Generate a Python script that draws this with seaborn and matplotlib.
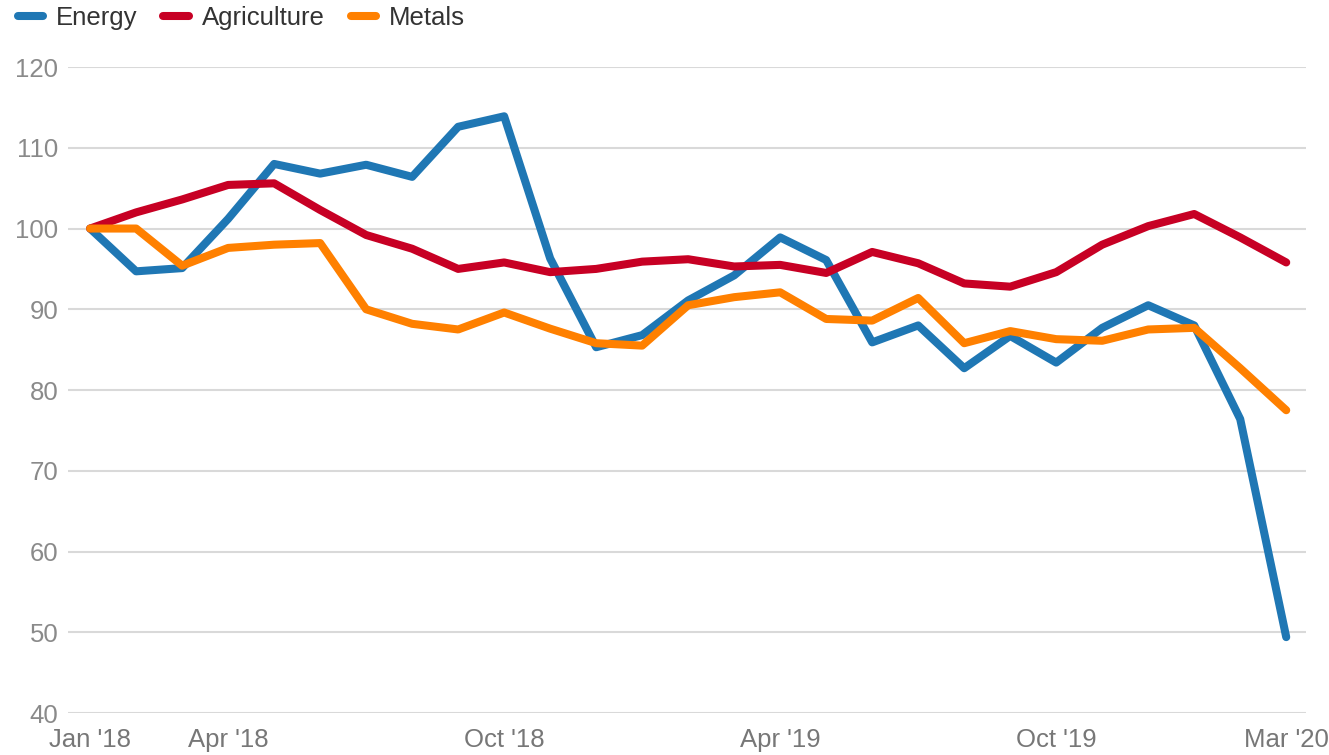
import matplotlib
matplotlib.use("Agg")
import matplotlib.pyplot as plt
import numpy as np
import pandas as pd
import seaborn as sns

# ---------------------------------------------------------------------------
# Data: monthly commodity price indices, Jan 2018 = 100
# ---------------------------------------------------------------------------
months = ["Jan '18", "Feb '18", "Mar '18", "Apr '18", "May '18", "Jun '18",
          "Jul '18", "Aug '18", "Sep '18", "Oct '18", "Nov '18", "Dec '18",
          "Jan '19", "Feb '19", "Mar '19", "Apr '19", "May '19", "Jun '19",
          "Jul '19", "Aug '19", "Sep '19", "Oct '19", "Nov '19", "Dec '19",
          "Jan '20", "Feb '20", "Mar '20"]

energy = [100, 94.7, 95.1, 101.2, 108.0, 106.8, 107.9, 106.4, 112.6, 113.9,
          96.3, 85.3, 86.8, 91.1, 94.2, 98.9, 96.1, 85.9, 88.0, 82.7,
          86.7, 83.4, 87.7, 90.5, 88.0, 76.4, 49.4]

agriculture = [100, 102.0, 103.6, 105.4, 105.6, 102.3, 99.2, 97.5, 95.0, 95.8,
               94.6, 95.0, 95.9, 96.2, 95.3, 95.5, 94.5, 97.1, 95.7, 93.2,
               92.8, 94.6, 98.0, 100.3, 101.8, 98.9, 95.8]

metals = [100, 100.0, 95.4, 97.6, 98.0, 98.2, 90.0, 88.2, 87.5, 89.6,
          87.6, 85.8, 85.5, 90.5, 91.5, 92.1, 88.8, 88.6, 91.4, 85.8,
          87.3, 86.3, 86.1, 87.5, 87.7, 82.7, 77.5]

tick_labels = ["Jan '18", "Apr '18", "Oct '18", "Apr '19", "Oct '19", "Mar '20"]
y_ticks = [40, 50, 60, 70, 80, 90, 100, 110, 120]

series_names = ["Energy", "Agriculture", "Metals"]
colours = {"Energy": "#1f77b4", "Agriculture": "#c70024", "Metals": "#ff8000"}

df = pd.DataFrame({"month": months, "idx": np.arange(len(months)),
                   "Energy": energy, "Agriculture": agriculture, "Metals": metals})
long_df = df.melt(id_vars=["month", "idx"], value_vars=series_names,
                  var_name="sector", value_name="value")

# ---------------------------------------------------------------------------
# Plot
# ---------------------------------------------------------------------------
sns.set_theme(style="white")
plt.rcParams["font.family"] = ["Liberation Sans", "DejaVu Sans"]

fig = plt.figure(figsize=(13.29, 7.55), dpi=100)
ax = fig.add_axes([0.0512, 0.0556, 0.9315, 0.8556])

sns.lineplot(data=long_df, x="idx", y="value", hue="sector",
             hue_order=series_names, palette=colours, lw=5.8,
             solid_capstyle="round", solid_joinstyle="round",
             ax=ax, legend=True, clip_on=False)

ax.set_xlim(-0.48, len(months) - 1 + 0.43)
ax.set_ylim(40, 120)
ax.set_yticks(y_ticks)
ax.set_yticklabels([str(v) for v in y_ticks])
pos = [months.index(t) for t in tick_labels]
ax.set_xticks(pos)
ax.set_xticklabels(tick_labels)

ax.grid(axis="y", color="#d9d9d9", lw=1.5)
ax.grid(axis="x", visible=False)
ax.set_axisbelow(True)
for s in ax.spines.values():
    s.set_visible(False)
ax.tick_params(axis="y", length=0, pad=7, labelsize=18.5, labelcolor="#8a8a8a")
ax.tick_params(axis="x", length=0, pad=11, labelsize=18.5, labelcolor="#777777")
ax.set_xlabel("")
ax.set_ylabel("")

handles, labels = ax.get_legend_handles_labels()
for h in handles:
    h.set_solid_capstyle("round")
leg = ax.legend(handles, labels, loc="upper left", bbox_to_anchor=(-0.049, 1.111),
                ncol=3, frameon=False, fontsize=18.5, handlelength=1.0,
                handletextpad=0.5, columnspacing=1.0, borderaxespad=0)
for t in leg.get_texts():
    t.set_color("#333333")

fig.savefig("out.png", dpi=100)
